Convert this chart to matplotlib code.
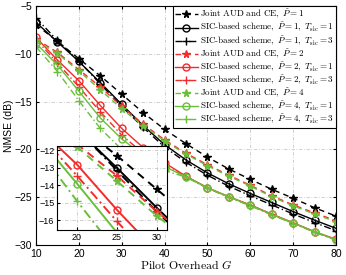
import matplotlib
matplotlib.use("Agg")
import matplotlib.pyplot as plt

plt.rcParams['mathtext.fontset'] = 'cm'
plt.rcParams['font.family'] = ['Liberation Sans', 'DejaVu Sans']

G = [10, 15, 20, 25, 30, 35, 40, 45, 50, 55, 60, 65, 70, 75, 80]

joint_p1 = [-6.95, -8.7, -10.5, -12.3, -14.22, -16.15, -17.9, -19.4, -20.8, -22.05, -23.13, -24.17, -25.1, -26.1, -26.97]
sic_p1_t1 = [-6.7, -8.75, -10.8, -13.0, -15.28, -17.5, -19.5, -21.1, -22.45, -23.6, -24.6, -25.55, -26.5, -27.4, -28.25]
sic_p1_t3 = [-6.25, -8.6, -10.75, -13.15, -15.5, -17.7, -19.75, -21.35, -22.7, -23.85, -24.85, -25.8, -26.75, -27.65, -28.5]
joint_p2 = [-8.45, -9.85, -11.65, -13.45, -15.5, -17.35, -19.0, -20.4, -21.6, -22.7, -23.75, -24.85, -25.8, -26.65, -27.45]
sic_p2_t1 = [-8.28, -10.65, -12.81, -15.4, -17.8, -19.8, -21.4, -22.8, -24.0, -24.95, -25.8, -26.76, -27.67, -28.6, -29.4]
sic_p2_t3 = [-8.5, -10.95, -13.45, -16.06, -18.5, -20.4, -21.7, -22.85, -24.05, -25.0, -25.85, -26.8, -27.7, -28.65, -29.45]
joint_p4 = [-8.6, -9.95, -11.8, -13.75, -15.75, -17.5, -19.1, -20.5, -21.7, -22.8, -23.83, -24.95, -25.9, -26.76, -27.56]
sic_p4_t1 = [-8.9, -11.17, -13.9, -16.7, -18.9, -20.6, -21.8, -22.85, -24.0, -24.95, -25.85, -26.8, -27.7, -28.6, -29.45]
sic_p4_t3 = [-9.25, -11.85, -14.9, -17.8, -20.0, -21.3, -22.2, -22.9, -24.05, -25.0, -25.9, -26.85, -27.75, -28.65, -29.5]

labels = [
    r"$\mathrm{Joint\ AUD\ and\ CE},\ \tilde{P}=1$",
    r"$\mathrm{SIC\text{-}based\ scheme},\ \tilde{P}=1,\ T_{\rm sic}=1$",
    r"$\mathrm{SIC\text{-}based\ scheme},\ \tilde{P}=1,\ T_{\rm sic}=3$",
    r"$\mathrm{Joint\ AUD\ and\ CE},\ \tilde{P}=2$",
    r"$\mathrm{SIC\text{-}based\ scheme},\ \tilde{P}=2,\ T_{\rm sic}=1$",
    r"$\mathrm{SIC\text{-}based\ scheme},\ \tilde{P}=2,\ T_{\rm sic}=3$",
    r"$\mathrm{Joint\ AUD\ and\ CE},\ \tilde{P}=4$",
    r"$\mathrm{SIC\text{-}based\ scheme},\ \tilde{P}=4,\ T_{\rm sic}=1$",
    r"$\mathrm{SIC\text{-}based\ scheme},\ \tilde{P}=4,\ T_{\rm sic}=3$",
]

BLACK = 'k'
RED = '#f52a2a'
GREEN = '#6abf3a'

series = [
    (joint_p1, BLACK, 'joint'), (sic_p1_t1, BLACK, 't1'), (sic_p1_t3, BLACK, 't3'),
    (joint_p2, RED, 'joint'), (sic_p2_t1, RED, 't1'), (sic_p2_t3, RED, 't3'),
    (joint_p4, GREEN, 'joint'), (sic_p4_t1, GREEN, 't1'), (sic_p4_t3, GREEN, 't3'),
]

styles = {
    'joint': dict(linestyle=(0, (4, 3)), marker='*', markersize=5.5, mfc=None),
    't1': dict(linestyle='-', marker='o', markersize=5, mfc='none'),
    't3': dict(linestyle=(0, (5, 2, 1, 2)), marker='+', markersize=6, mfc=None),
}


def draw(ax, with_labels, lw):
    for (vals, col, kind), lab in zip(series, labels):
        st = dict(styles[kind])
        mfc = st.pop('mfc')
        kw = dict(color=col, lw=lw, mew=1.0, label=lab if with_labels else None, **st)
        if mfc is not None:
            kw['mfc'] = mfc
        ax.plot(G, vals, **kw)


fig = plt.figure(figsize=(3.46, 2.75), dpi=100)
ax = fig.add_axes([0.104, 0.109, 0.867, 0.869])
draw(ax, True, 1.0)
ax.set_xlim(10, 80)
ax.set_ylim(-30, -5)
ax.set_xticks([10, 20, 30, 40, 50, 60, 70, 80])
ax.set_yticks([-30, -25, -20, -15, -10, -5])
ax.grid(True, color='#c8c8c8', linestyle=(0, (4, 2, 1, 2)), lw=0.6)
ax.tick_params(direction='in', labelsize=7.5, length=2.5, top=True, right=True, pad=3)
ax.set_xlabel(r"$\mathrm{Pilot\ Overhead}\ G$", fontsize=8.5, labelpad=0)
ax.set_ylabel("NMSE (dB)", fontsize=7.5, labelpad=0)
for s in ax.spines.values():
    s.set_linewidth(0.8)

leg = ax.legend(loc='upper right', fontsize=6.5, handlelength=2.5, handletextpad=0.25,
                borderpad=0.25, labelspacing=0.0, borderaxespad=0.0,
                frameon=True, fancybox=False, edgecolor='k', framealpha=1)
leg.get_frame().set_linewidth(0.8)

axin = fig.add_axes([0.165, 0.164, 0.318, 0.305])
draw(axin, False, 1.4)
axin.set_xlim(17.5, 31.3)
axin.set_ylim(-16.55, -11.75)
axin.set_xticks([20, 25, 30])
axin.set_yticks([-16, -15, -14, -13, -12])
axin.grid(True, color='#c8c8c8', linestyle=(0, (4, 2, 1, 2)), lw=0.6)
axin.tick_params(direction='in', labelsize=6.5, length=2, pad=2)
axin.set_facecolor('white')
for s in axin.spines.values():
    s.set_linewidth(0.8)

fig.savefig("out.png", dpi=100)
